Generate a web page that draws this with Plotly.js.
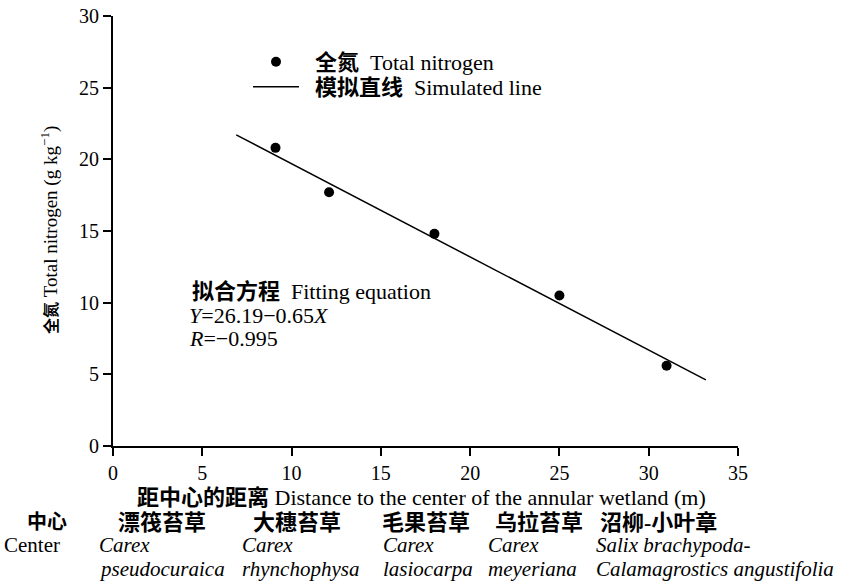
<!DOCTYPE html>
<html>
<head>
<meta charset="utf-8">
<script src="https://cdn.plot.ly/plotly-3.0.1.min.js"></script>
<style>
  html, body { margin: 0; padding: 0; background: #fff; }
  #chart { width: 855px; height: 585px; }
</style>
</head>
<body>
<div id="chart"></div>
<script>
// Total nitrogen measured along the distance from the wetland centre
const distance = [9.1, 12.1, 18.0, 25.0, 31.0];
const nitrogen = [20.8, 17.7, 14.8, 10.5, 5.6];

// Fitted straight line Y = a + bX
const fitIntercept = 26.19;
const fitSlope = -0.65;
const fitR = -0.995;
const fitX = [6.9, 33.2];

const xTicks = [0, 5, 10, 15, 20, 25, 30, 35];
const yTicks = [0, 5, 10, 15, 20, 25, 30];

// Plant communities from the centre outwards
const zoneCn = ['中心', '漂筏苔草', '大穗苔草', '毛果苔草', '乌拉苔草', '沼柳-小叶章'];
const zoneLatin1 = ['Center', 'Carex', 'Carex', 'Carex', 'Carex', 'Salix brachypoda-'];
const zoneLatin2 = ['', 'pseudocuraica', 'rhynchophysa', 'lasiocarpa', 'meyeriana', 'Calamagrostics angustifolia'];

const fitY = fitX.map(x => fitIntercept + fitSlope * x);

const FONT = '"Liberation Serif", "Times New Roman", "Noto Sans CJK SC", serif';
const FS = 22;
const NB = '\u00a0';

// plot area geometry in pixels
const M = { l: 113, r: 117, t: 16, b: 139 };
const W = 855, H = 585;
const PW = W - M.l - M.r, PH = H - M.t - M.b;
const px = x => (x - M.l) / PW;          // pixel x -> paper x
const py = y => (H - M.b - y) / PH;      // pixel y -> paper y

const cnLeft = [25, 116, 251, 380, 493, 598];
const latinLeft = [2, 97, 240, 381, 486, 594];

const annotations = [];
function note(text, x, y, opts) {
  annotations.push(Object.assign({
    text: text, xref: 'paper', yref: 'paper', x: px(x), y: py(y),
    xanchor: 'left', yanchor: 'middle', showarrow: false,
    font: { family: FONT, size: FS, color: '#000' }
  }, opts || {}));
}
const font = size => ({ family: FONT, size: size, color: '#000' });

// fitting equation block
note('<b>拟合方程</b>' + NB + NB + 'Fitting equation', 190, 291);
note('<i>Y</i>=' + fitIntercept.toFixed(2) + '−' + Math.abs(fitSlope).toFixed(2) + '<i>X</i>', 187, 315);
note('<i>R</i>=−' + Math.abs(fitR).toFixed(3), 187, 338);

// axis titles
note('<span style="font-size:16px"><b>全氮</b></span> Total nitrogen (g kg<sup>−1</sup>)', 50, 230,
  { textangle: -90, xanchor: 'center', font: font(19) });
note('<b>距中心的距离</b> Distance to the center of the annular wetland (m)', 421, 497, { xanchor: 'center' });

// community names under the axis
zoneCn.forEach((t, i) => note('<b>' + t + '</b>', cnLeft[i], 522, i === 0 ? { font: font(20) } : {}));
zoneLatin1.forEach((t, i) => note(i === 0 ? t : '<i>' + t + '</i>', latinLeft[i], 545, { font: font(21) }));
zoneLatin2.forEach((t, i) => { if (t) note('<i>' + t + '</i>', latinLeft[i], 569, { font: font(21) }); });

const traces = [
  {
    x: distance, y: nitrogen, type: 'scatter', mode: 'markers',
    name: NB + NB + '<b>全氮</b>' + NB + NB + 'Total nitrogen',
    legend: 'legend',
    marker: { color: '#000', size: 10 }
  },
  {
    x: fitX, y: fitY, type: 'scatter', mode: 'lines',
    name: NB + NB + '<b>模拟直线</b>' + NB + NB + 'Simulated line',
    legend: 'legend2',
    line: { color: '#000', width: 1.5 }
  }
];

const axisCommon = {
  showgrid: false, zeroline: false, showline: true,
  linecolor: '#000', linewidth: 2,
  ticks: 'outside', ticklen: 8, tickwidth: 2, tickcolor: '#000',
  tickfont: font(20),
  tickmode: 'array', fixedrange: true
};

const legendCommon = {
  xanchor: 'left', yanchor: 'middle',
  bgcolor: 'rgba(0,0,0,0)', borderwidth: 0,
  font: font(FS),
  itemwidth: 46
};

const layout = {
  width: W, height: H,
  margin: M,
  paper_bgcolor: '#fff', plot_bgcolor: '#fff',
  showlegend: true,
  legend: Object.assign({ x: px(248), y: py(62) }, legendCommon),
  legend2: Object.assign({ x: px(248), y: py(87) }, legendCommon),
  xaxis: Object.assign({}, axisCommon, { range: [0, 35], tickvals: xTicks, ticktext: xTicks.map(String) }),
  yaxis: Object.assign({}, axisCommon, { range: [0, 30], tickvals: yTicks, ticktext: yTicks.map(String) }),
  annotations: annotations
};

Plotly.newPlot('chart', traces, layout, { displayModeBar: false, staticPlot: true });
</script>
</body>
</html>
